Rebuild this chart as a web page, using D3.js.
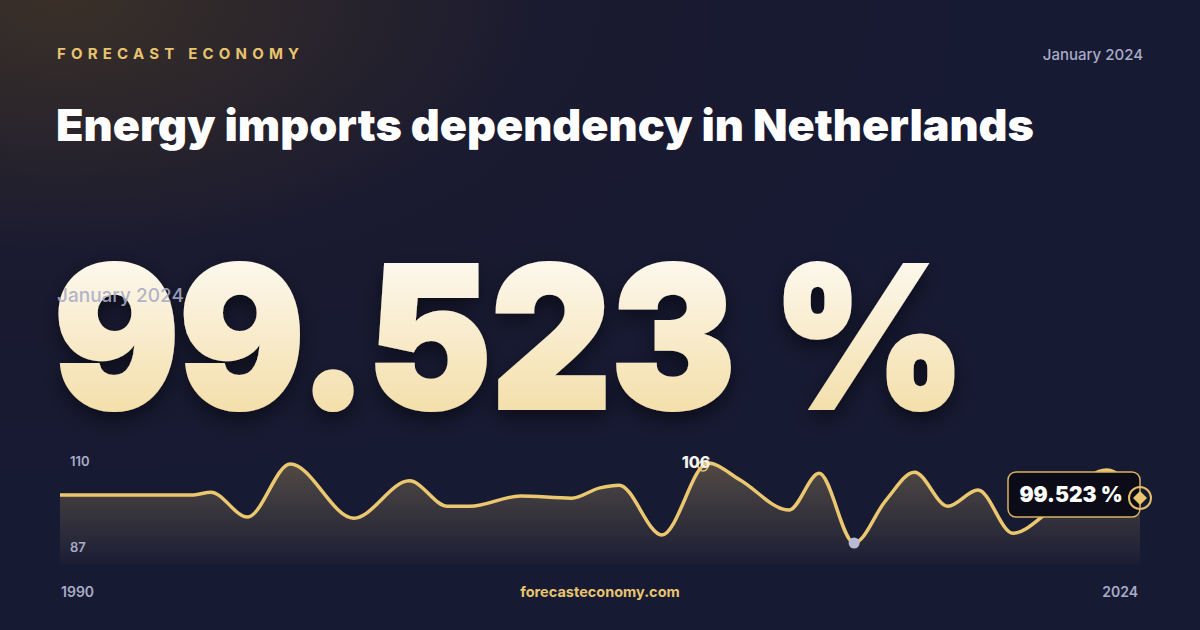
<!DOCTYPE html>
<html><head><meta charset="utf-8">
<script src="https://cdn.jsdelivr.net/npm/d3@7"></script>
<style>html,body{margin:0;padding:0;background:#161830;}svg{display:block}</style>
</head><body>
<svg id="c" width="1200" height="630"></svg>
<script>
const years = [1990,1994.2,1994.75,1995.9,1997.25,1999.25,2001.0,2002.2,2002.9,2004.5,2006.1,2007.0,2007.6,2008.95,2010.4,2011.4,2012.95,2013.9,2015.0,2016.0,2016.9,2017.95,2018.9,2020.0,2021.2,2022.95,2024];
const values = [100.1,100.1,100.6,96.0,105.8,95.8,102.7,98.0,98.0,99.9,99.5,101.4,101.9,92.7,106.0,102.9,97.3,104.1,91.2,99.1,104.3,98.0,101.0,93.0,97.3,104.7,99.523];
const axisLabels = ["110","87"];
const xLabels = ["1990","2024"];
const headline = "99.523 %";
const data = years.map((y,i)=>({x:y,v:values[i]}));

const svg = d3.select("#c");
const defs = svg.append("defs");
const bg = defs.append("radialGradient").attr("id","bg").attr("cx","0.05").attr("cy","0").attr("r","0.75");
bg.append("stop").attr("offset","0").attr("stop-color","#3a3028");
bg.append("stop").attr("offset","0.55").attr("stop-color","#1a1a30");
bg.append("stop").attr("offset","1").attr("stop-color","#171a33");
svg.append("rect").attr("width",1200).attr("height",630).attr("fill","#171a33");
svg.append("rect").attr("width",1200).attr("height",630).attr("fill","url(#bg)");

const tg = defs.append("linearGradient").attr("id","tg").attr("x1",0).attr("y1",0).attr("x2",0).attr("y2",1);
tg.append("stop").attr("offset","0").attr("stop-color","#ffffff");
tg.append("stop").attr("offset","1").attr("stop-color","#f2d898");
const ag = defs.append("linearGradient").attr("id","ag").attr("x1",0).attr("y1",0).attr("x2",0).attr("y2",1);
ag.append("stop").attr("offset","0").attr("stop-color","#e8c46f").attr("stop-opacity",0.28);
ag.append("stop").attr("offset","1").attr("stop-color","#e8c46f").attr("stop-opacity",0.02);
const sh = defs.append("filter").attr("id","sh").attr("x","-10%").attr("y","-10%").attr("width","120%").attr("height","130%");
sh.append("feDropShadow").attr("dx",0).attr("dy",8).attr("stdDeviation",10).attr("flood-color","#000").attr("flood-opacity",0.5);

const F = "Inter, 'Noto Sans', sans-serif";
svg.append("text").attr("x",57).attr("y",59).attr("fill","#e8c46f").attr("font-family",F).attr("font-weight",700).attr("font-size",15).attr("letter-spacing",5.2).text("FORECAST ECONOMY");
svg.append("text").attr("x",1143).attr("y",60).attr("text-anchor","end").attr("fill","#a9acc6").attr("font-family",F).attr("font-weight",500).attr("font-size",15).text("January 2024");
svg.append("text").attr("x",56).attr("y",141).attr("fill","#ffffff").attr("font-family",F).attr("font-weight",900).attr("font-size",44).attr("textLength",978).attr("lengthAdjust","spacingAndGlyphs").text("Energy imports dependency in Netherlands");

svg.append("text").attr("x",54).attr("y",408).attr("fill","url(#tg)").attr("filter","url(#sh)").attr("font-family",F).attr("font-weight",900).attr("font-size",196).attr("stroke","url(#tg)").attr("stroke-width",4).attr("textLength",912).attr("lengthAdjust","spacingAndGlyphs").text(headline);
svg.append("text").attr("x",57).attr("y",302).attr("fill","#a9acc6").attr("fill-opacity",0.9).attr("font-family",F).attr("font-weight",500).attr("font-size",19).text("January 2024");

const x = d3.scaleLinear().domain([1990,2024]).range([60,1140]);
const y = d3.scaleLinear().domain([91.2,106]).range([543,463]);
const area = d3.area().x(d=>x(d.x)).y0(564).y1(d=>y(d.v)).curve(d3.curveMonotoneX);
const line = d3.line().x(d=>x(d.x)).y(d=>y(d.v)).curve(d3.curveMonotoneX);
svg.append("path").datum(data).attr("d",area).attr("fill","url(#ag)");
svg.append("path").datum(data).attr("d",line).attr("fill","none").attr("stroke","#ebc76f").attr("stroke-width",3.5).attr("stroke-linejoin","round");

svg.selectAll(".yl").data(axisLabels).enter().append("text").attr("x",70).attr("y",(d,i)=>i?552:466).attr("fill","#a9acc6").attr("font-family",F).attr("font-weight",600).attr("font-size",13).text(d=>d);
svg.selectAll(".xl").data(xLabels).enter().append("text").attr("x",(d,i)=>i?1138:61).attr("y",597).attr("text-anchor",(d,i)=>i?"end":"start").attr("fill","#a9acc6").attr("font-family",F).attr("font-weight",600).attr("font-size",14).text(d=>d);
svg.append("text").attr("x",600).attr("y",597).attr("text-anchor","middle").attr("fill","#e8c46f").attr("font-family",F).attr("font-weight",700).attr("font-size",14.5).text("forecasteconomy.com");

const iMax = d3.maxIndex(data,d=>d.v), iMin = d3.minIndex(data,d=>d.v);
const mx = data[iMax], mn = data[iMin], last = data[data.length-1];
svg.append("circle").attr("cx",x(mx.x)-5).attr("cy",y(mx.v)+3).attr("r",5).attr("fill","none").attr("stroke","#ebc76f").attr("stroke-width",1.5);
svg.append("text").attr("x",x(mx.x)-12).attr("y",y(mx.v)+5).attr("text-anchor","middle").attr("fill","#f4f1ea").attr("font-family",F).attr("font-weight",800).attr("font-size",16).text(d3.format(".0f")(mx.v));
svg.append("circle").attr("cx",x(mn.x)).attr("cy",y(mn.v)).attr("r",5.5).attr("fill","#b9bbd6");

svg.append("rect").attr("x",1008).attr("y",472).attr("width",132).attr("height",45).attr("rx",8).attr("fill","#0b0c18").attr("stroke","#d9b35e").attr("stroke-width",1.5);
svg.append("text").attr("x",1071).attr("y",502).attr("text-anchor","middle").attr("fill","#ffffff").attr("font-family",F).attr("font-weight",900).attr("font-size",21).text(headline);
svg.append("circle").attr("cx",x(last.x)).attr("cy",y(last.v)).attr("r",11).attr("fill","none").attr("stroke","#e3bd66").attr("stroke-width",2);
svg.append("path").attr("transform",`translate(${x(last.x)},${y(last.v)})`).attr("d","M0,-7L7,0L0,7L-7,0Z").attr("fill","#ebc76f");
</script>
</body></html>
